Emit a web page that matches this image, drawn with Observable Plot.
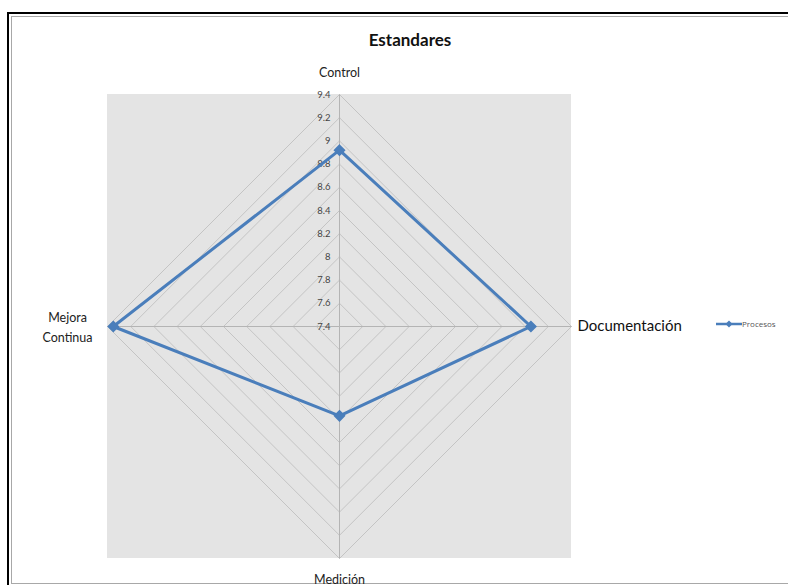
<!DOCTYPE html>
<html><head><meta charset="utf-8">
<script src="https://cdn.jsdelivr.net/npm/d3@7"></script>
<script src="https://cdn.jsdelivr.net/npm/@observablehq/plot@0.6"></script>
<style>
html,body{margin:0;background:#fff;overflow:hidden;width:788px;height:585px;}
#wrap{position:absolute;left:0;top:0;width:788px;height:585px;overflow:hidden;}
#frame{position:absolute;left:7px;top:12px;width:781px;height:580px;border-left:2px solid #000;border-top:2px solid #000;}
#inner{position:absolute;left:11px;top:16px;width:777px;height:566px;border-left:1px solid #a8a8a8;border-top:1px solid #a8a8a8;border-bottom:1px solid #a8a8a8;}
#chart{position:absolute;left:0;top:0;}
#title{position:absolute;left:300px;width:220px;top:29px;text-align:center;font:bold 17px Lato,"Open Sans",sans-serif;color:#111;}
#legend{position:absolute;left:716px;top:318px;font:8px "Open Sans",sans-serif;color:#555;display:flex;align-items:center;}
</style></head><body>
<div id="wrap"><div id="frame"></div><div id="inner"></div><div id="chart"></div>
<div id="title"></div><div id="legend"></div></div>
<script>
const title = "Estandares";
const axes = ["Control", "Documentación", "Medición", "Mejora Continua"];
const axisLabels = ["Control", "Documentación", "Medición", "Mejora\nContinua"];
const seriesName = "Procesos";
const procesos = [8.92, 9.05, 8.17, 9.35];
const ticks = [7.4, 7.6, 7.8, 8.0, 8.2, 8.4, 8.6, 8.8, 9.0, 9.2, 9.4];
const tickLabels = ["7.4", "7.6", "7.8", "8", "8.2", "8.4", "8.6", "8.8", "9", "9.2", "9.4"];

const W = 788, H = 585, cx = 339, cy = 326, ppu = 116;
const color = "#4a7ebb";
const vmin = ticks[0], vmax = ticks[ticks.length - 1];
const R = vmax - vmin;
const ang = i => i * Math.PI / 2;
const px = (i, v) => (v - vmin) * Math.sin(ang(i));
const py = (i, v) => (v - vmin) * Math.cos(ang(i));

const rings = [];
ticks.slice(1).forEach((t, k) => {
  for (let i = 0; i <= axes.length; i++) {
    const j = i % axes.length;
    rings.push({ring: k, x: px(j, t), y: py(j, t)});
  }
});
const spokes = axes.map((a, i) => ({x1: 0, y1: 0, x2: px(i, vmax), y2: py(i, vmax)}));
const pts = procesos.map((v, i) => ({axis: axes[i], v, x: px(i, v), y: py(i, v)}));
const closed = [...pts, pts[0]];
const tickData = ticks.map((t, i) => ({t, label: tickLabels[i], x: 0, y: t - vmin}));
const lab = axisLabels.map((l, i) => ({l, x: px(i, vmax), y: py(i, vmax), i}));

const font = "Lato, 'Open Sans', sans-serif";
const plot = Plot.plot({
  width: W, height: H,
  margin: 0,
  x: {domain: [-cx / ppu, (W - cx) / ppu], axis: null},
  y: {domain: [-(H - cy) / ppu, cy / ppu], axis: null},
  style: {fontFamily: font, background: "transparent"},
  marks: [
    Plot.rect([{x1: -R, x2: R, y1: -R, y2: R}], {x1: "x1", x2: "x2", y1: "y1", y2: "y2", fill: "#e4e4e4"}),
    Plot.line(rings, {x: "x", y: "y", z: "ring", stroke: "#c4c4c4", strokeWidth: 1}),
    Plot.link(spokes, {x1: "x1", y1: "y1", x2: "x2", y2: "y2", stroke: "#b4b4b4", strokeWidth: 1}),
    Plot.text(tickData, {x: "x", y: "y", text: "label", dx: -9, textAnchor: "end", fontSize: 9.5, fill: "#444"}),
    Plot.line(closed, {x: "x", y: "y", stroke: color, strokeWidth: 3, strokeLinejoin: "miter"}),
    Plot.dot(pts, {x: "x", y: "y", symbol: "diamond2", r: 4.5, fill: color, stroke: color}),
    Plot.text(lab.filter(d => d.i === 0), {x: "x", y: "y", text: "l", dy: -22, fontSize: 12.5, fill: "#222"}),
    Plot.text(lab.filter(d => d.i === 1), {x: "x", y: "y", text: "l", dx: 6, textAnchor: "start", fontSize: 15, fill: "#111"}),
    Plot.text(lab.filter(d => d.i === 2), {x: "x", y: "y", text: "l", dy: 21, fontSize: 12.5, fill: "#222"}),
    Plot.text(lab.filter(d => d.i === 3), {x: "x", y: "y", text: "l", dx: -40, dy: -1, fontSize: 12.5, lineHeight: 1.6, fill: "#222"})
  ]
});
document.getElementById("chart").appendChild(plot);
document.getElementById("title").textContent = title;
document.getElementById("legend").innerHTML =
  `<svg width="26" height="10"><line x1="0" y1="5" x2="26" y2="5" stroke="${color}" stroke-width="2.5"/><path d="M13 1.5 L16.5 5 L13 8.5 L9.5 5Z" fill="${color}"/></svg><span>${seriesName}</span>`;
</script>
</body></html>
